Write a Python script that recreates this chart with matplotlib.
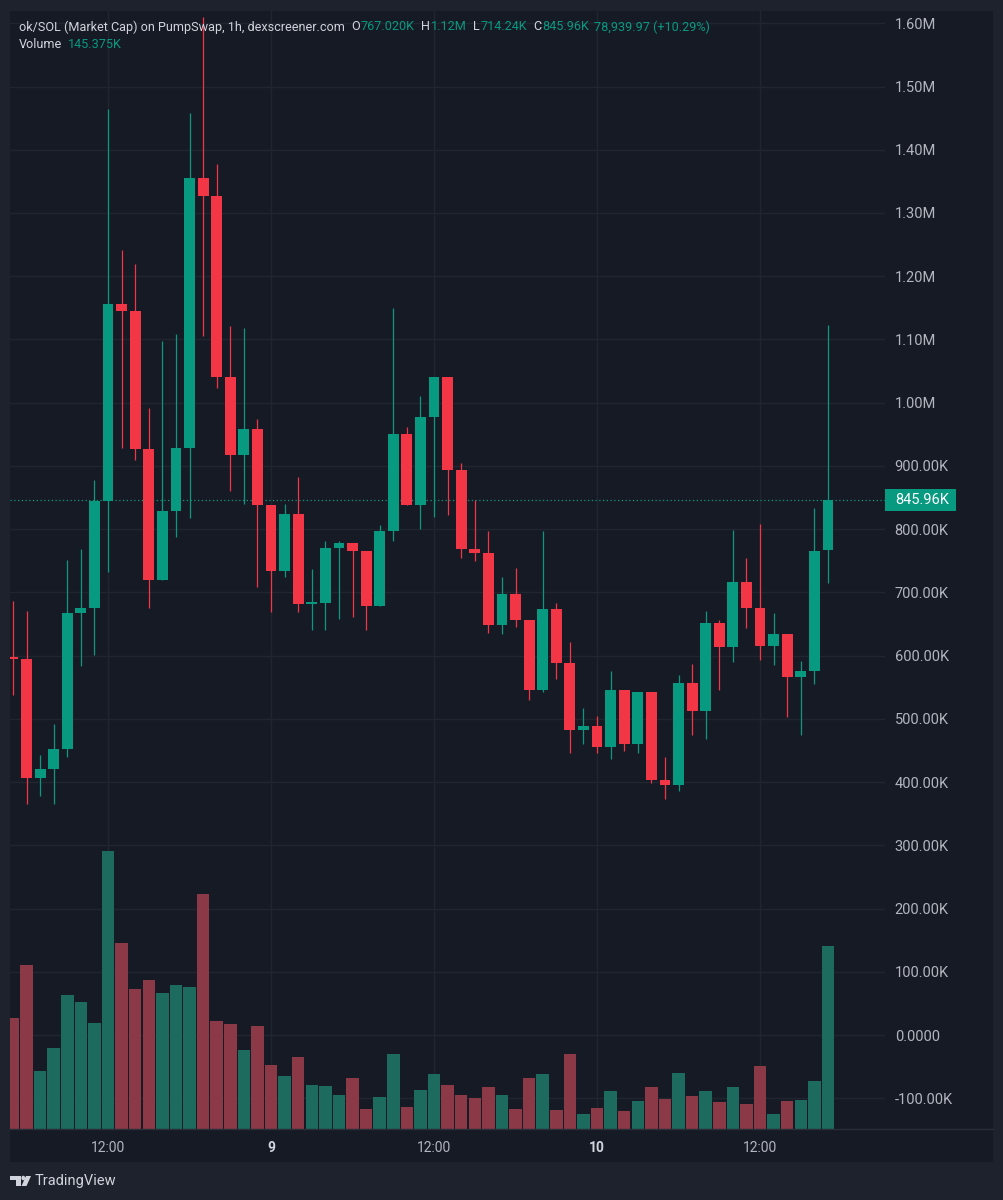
import matplotlib
matplotlib.use("Agg")
import matplotlib.pyplot as plt
from matplotlib.patches import Rectangle, Polygon, Circle
from matplotlib.lines import Line2D
from matplotlib import transforms

plt.rcParams['font.family'] = ['Roboto', 'DejaVu Sans']

# ok/SOL market cap, 1h candles, starting 8th 05:00 (values in K)
start_day = 8
start_hour = 5
opens = [598, 595, 407, 420, 452, 667, 675, 845, 1156, 1145, 926, 719, 828, 929,
         1356, 1327, 1040, 917, 958, 838, 734, 824, 682, 684, 770, 778, 766, 678,
         797, 950, 839, 977, 1041, 894, 769, 763, 649, 698, 656, 546, 673, 589,
         483, 489, 455, 546, 460, 543, 403, 395, 557, 513, 652, 613, 716, 675,
         615, 634, 567, 575, 767.02]
highs = [686, 670, 443, 492, 752, 768, 878, 1465, 1241, 1220, 992, 1097, 1109, 1458,
         1610, 1378, 1121, 1118, 975, 838, 840, 882, 737, 782, 782, 778, 766, 806,
         1150, 961, 1010, 1041, 1041, 905, 846, 797, 724, 738, 656, 797, 684, 621,
         517, 504, 576, 546, 543, 543, 440, 570, 587, 670, 657, 799, 755, 808,
         667, 634, 592, 834, 1123]
lows = [537, 365, 378, 365, 439, 583, 601, 732, 928, 910, 675, 719, 788, 817,
        1106, 1023, 860, 840, 709, 669, 724, 669, 641, 640, 658, 661, 640, 678,
        781, 839, 800, 820, 822, 755, 749, 636, 635, 646, 530, 542, 563, 446,
        460, 446, 437, 449, 446, 399, 374, 386, 475, 468, 545, 590, 643, 593,
        586, 503, 474, 555, 714.24]
closes = [595, 407, 420, 452, 667, 675, 845, 1156, 1145, 926, 719, 828, 929, 1356,
          1327, 1040, 917, 958, 838, 734, 824, 682, 684, 770, 778, 766, 678, 797,
          950, 839, 977, 1041, 894, 769, 763, 649, 698, 656, 546, 673, 589, 483,
          489, 455, 546, 460, 543, 403, 395, 557, 513, 652, 613, 716, 675, 615,
          634, 567, 575, 766, 845.96]
volumes = [88.0, 130.5, 45.8, 64.3, 106.7, 101.4, 84.7, 221.3, 147.7, 111.2, 118.8,
           108.5, 114.3, 113.3, 187.1, 85.8, 83.4, 63.0, 82.0, 51.0, 41.8, 57.2,
           34.7, 34.1, 27.3, 40.5, 16.1, 25.1, 59.6, 17.7, 31.0, 43.9, 34.9, 27.3,
           24.6, 33.3, 27.3, 15.9, 40.2, 43.4, 14.8, 59.3, 11.9, 16.9, 29.9, 14.0,
           22.0, 33.1, 24.1, 44.2, 25.9, 30.2, 21.2, 33.3, 20.1, 50.5, 11.6, 22.5,
           22.8, 37.8, 145.375]

# header values as shown by the chart
head_o, head_h, head_l, head_c = "767.020K", "1.12M", "714.24K", "845.96K"
head_chg = "78,939.97 (+10.29%)"
head_vol = "145.375K"

price_ticks = list(range(-100, 1700, 100))


def price_label(v):
    if v == 0:
        return "0.0000"
    if abs(v) >= 1000:
        return f"{v / 1000:.2f}M"
    return f"{v:.2f}K"


price_labels = [price_label(v) for v in price_ticks]

UP = '#089981'
DOWN = '#f23645'
UP_VOL = '#1d6a5f'
DOWN_VOL = '#8b3946'
PANEL = '#161a25'
FRAME = '#1e222d'
GRID = '#212530'
TXT = '#b2b5be'
HEAD = '#d1d4dc'

W, H = 1004, 1200


def fx(px):
    return px / W


def fy(py):
    return 1 - py / H


fig = plt.figure(figsize=(W / 100, H / 100), dpi=100, facecolor=FRAME)
fig.add_artist(Rectangle((fx(10), fy(1162)), fx(993) - fx(10), fy(11) - fy(1162),
                         transform=fig.transFigure, facecolor=PANEL, edgecolor='none', zorder=-2))

ax = fig.add_axes([fx(10), fy(1129), fx(885) - fx(10), fy(11) - fy(1129)])
ax.set_facecolor(PANEL)
for s in ax.spines.values():
    s.set_visible(False)

n = len(closes)
xs = list(range(n))
hours = [(start_hour + k) % 24 for k in xs]
tick_pos, tick_lab = [], []
day = start_day
for k, h in zip(xs, hours):
    if h == 0:
        day += 1
        tick_pos.append(k)
        tick_lab.append(str(day))
    elif h == 12:
        tick_pos.append(k)
        tick_lab.append("12:00")

ax.set_xlim(-0.216, 64.2)
ax.set_ylim(-148.5, 1619.4)
ax.set_yticks(price_ticks)
ax.set_yticklabels(price_labels)
ax.set_xticks(tick_pos)
ax.set_xticklabels(tick_lab)
ax.yaxis.tick_right()
ax.tick_params(axis='y', length=0, pad=7, labelsize=10.5, labelcolor=TXT)
ax.tick_params(axis='x', length=0, pad=9, labelsize=10, labelcolor=TXT)
for t in ax.get_xticklabels():
    if t.get_text() != "12:00":
        t.set_fontweight('bold')
        t.set_color(HEAD)
ax.grid(True, color=GRID, lw=1)
ax.set_axisbelow(True)

colors = [UP if c >= o else DOWN for o, c in zip(opens, closes)]
bottoms = [min(o, c) for o, c in zip(opens, closes)]
heights = [max(abs(c - o), 2.5) for o, c in zip(opens, closes)]
ax.vlines(xs, lows, highs, colors=colors, lw=0.9, zorder=2)
ax.bar(xs, heights, bottom=bottoms, width=0.8, color=colors, linewidth=0, zorder=3)

# last price line + tag
last = closes[-1]
ax.axhline(last, color=UP, lw=0.9, ls=(0, (1, 2)), zorder=1)
blend = transforms.blended_transform_factory(ax.transAxes, ax.transData)
ax.add_patch(Rectangle((1.0, last - 17.4), 71 / 875, 34.8, transform=blend,
                       facecolor=UP, edgecolor='none', clip_on=False, zorder=5))
ax.text(1.0 + 10 / 875, last, f"{last:.2f}K", transform=blend, ha='left', va='center',
        color='white', fontsize=10.5, zorder=6, clip_on=False)

# volume pane overlaid at the bottom
ax2 = fig.add_axes(ax.get_position(), sharex=ax)
ax2.patch.set_visible(False)
ax2.axis('off')
ax2.set_ylim(0, 889.6)
vcolors = [UP_VOL if c == UP else DOWN_VOL for c in colors]
ax2.bar(xs, volumes, width=0.92, color=vcolors, linewidth=0)
ax2.set_xlim(-0.216, 64.2)

fig.add_artist(Line2D([fx(10), fx(993)], [fy(1129), fy(1129)], color='#2a2e39', lw=1,
                      transform=fig.transFigure))

# header legend
renderer = fig.canvas.get_renderer()


def put_row(parts, x0, y0, size=9.1):
    x = x0
    for s, col, gap in parts:
        t = fig.text(fx(x), fy(y0), s, color=col, fontsize=size, ha='left', va='center')
        x += t.get_window_extent(renderer).width + gap


put_row([("ok/SOL (Market Cap) on PumpSwap, 1h, dexscreener.com", HEAD, 6),
         ("O", HEAD, 1), (head_o, UP, 6),
         ("H", HEAD, 1), (head_h, UP, 6),
         ("L", HEAD, 1), (head_l, UP, 6),
         ("C", HEAD, 1), (head_c, UP, 5),
         (head_chg, UP, 0)], 19, 27)
put_row([("Volume", HEAD, 6), (head_vol, UP, 0)], 19, 45)

# TradingView logo
LOGO = '#d1d4dc'


def P(x, y):
    return (fx(x), fy(y))


fig.add_artist(Polygon([P(10, 1176), P(21, 1176), P(21, 1186), P(16, 1186), P(16, 1180), P(10, 1180)],
                       closed=True, transform=fig.transFigure, facecolor=LOGO, edgecolor='none'))
fig.add_artist(Circle(P(23.3, 1178), 1.9 / W, transform=fig.transFigure, facecolor=LOGO, edgecolor='none'))
fig.add_artist(Polygon([P(26, 1176), P(31, 1176), P(26.5, 1186), P(21.5, 1186)],
                       closed=True, transform=fig.transFigure, facecolor=LOGO, edgecolor='none'))
fig.text(fx(35), fy(1181), "TradingView", color=LOGO, fontsize=10.5, ha='left', va='center')

fig.savefig("out.png", dpi=100, facecolor=FRAME)
